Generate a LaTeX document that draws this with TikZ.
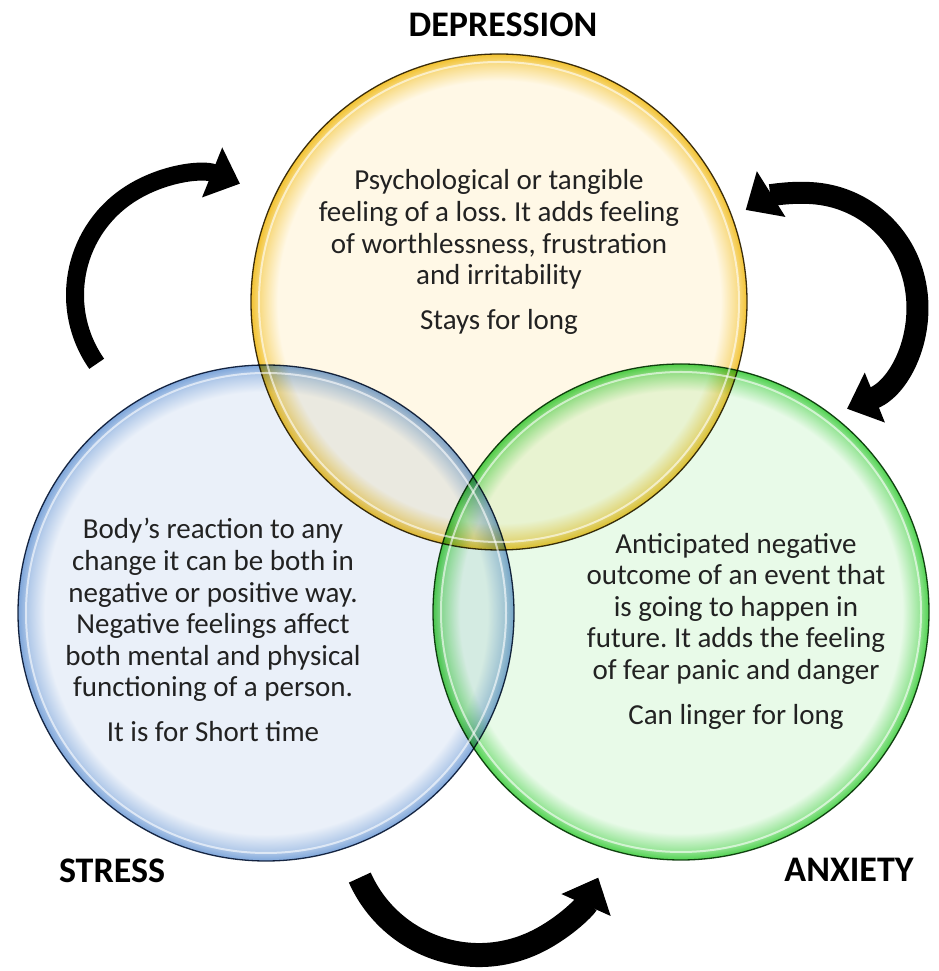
\documentclass[tikz,border=0pt]{standalone}
\usepackage{fontspec}
\setmainfont{Carlito}
\usetikzlibrary{arrows.meta}
\frenchspacing

\definecolor{depfill}{HTML}{FFF8E6}
\definecolor{depedge}{HTML}{F2C230}
\definecolor{depline}{HTML}{3D3415}
\definecolor{strfill}{HTML}{EAF0F9}
\definecolor{stredge}{HTML}{7EA6DA}
\definecolor{strline}{HTML}{1E2E48}
\definecolor{anxfill}{HTML}{E8FAE8}
\definecolor{anxedge}{HTML}{4FD24F}
\definecolor{anxline}{HTML}{1D4A1D}
\definecolor{bodytext}{HTML}{222222}

\pgfdeclareradialshading{depglass}{\pgfpoint{0bp}{0bp}}{color(0bp)=(depfill); color(22.3bp)=(depfill); color(24bp)=(depedge!50!depfill); color(25bp)=(depedge); color(50bp)=(depedge)}
\pgfdeclareradialshading{strglass}{\pgfpoint{0bp}{0bp}}{color(0bp)=(strfill); color(22.3bp)=(strfill); color(24bp)=(stredge!50!strfill); color(25bp)=(stredge); color(50bp)=(stredge)}
\pgfdeclareradialshading{anxglass}{\pgfpoint{0bp}{0bp}}{color(0bp)=(anxfill); color(22.3bp)=(anxfill); color(24bp)=(anxedge!50!anxfill); color(25bp)=(anxedge); color(50bp)=(anxedge)}

\tikzset{
  bubble/.style={circle, minimum size=496pt, inner sep=0pt, line width=1.3pt, shade},
  shine/.style={circle, minimum size=480pt, inner sep=0pt, draw=white, line width=2pt, draw opacity=0.6},
  blurb/.style={align=center, text=bodytext, font=\fontsize{29}{31.6}\selectfont},
  title/.style={font=\bfseries\fontsize{36}{42}\selectfont},
  fatarrow/.style={line width=20pt, -{Triangle[length=30pt,width=52pt]}},
}

\begin{document}
\begin{tikzpicture}[x=1pt, y=1pt]
  \useasboundingbox (0,0) rectangle (938,971);

  % the three circles
  \begin{scope}[blend group=multiply]
    \node[bubble, shading=strglass, draw=strline] (str) at (266,358) {};
    \node[bubble, shading=anxglass, draw=anxline] (anx) at (681,359) {};
    \node[bubble, shading=depglass, draw=depline] (dep) at (499,669) {};
  \end{scope}
  \node[shine] at (str) {};
  \node[shine] at (anx) {};
  \node[shine] at (dep) {};

  \node[blurb] (deptext) at (499,719) {Psychological or tangible\\feeling of a loss. It adds feeling\\of worthlessness, frustration\\and irritability\\[13pt]Stays for long};
  \node[blurb] (strtext) at (213,341) {Body’s reaction to any\\change it can be both in\\negative or positive way.\\Negative feelings affect\\both mental and physical\\functioning of a person.\\[13pt]It is for Short time};
  \node[blurb] (anxtext) at (736,340) {Anticipated negative\\outcome of an event that\\is going to happen in\\future. It adds the feeling\\of fear panic and danger\\[13pt]Can linger for long};

  \node[title] (deplabel) at (503,946) {DEPRESSION};
  \node[title] (strlabel) at (112,100) {STRESS};
  \node[title] (anxlabel) at (849,101) {ANXIETY};

  % cycle arrows
  \coordinate (lefttail) at (96.7,607.2);
  \coordinate (rightend) at (847,562.2);
  \coordinate (bottomtail) at (359.8,93.4);
  \draw[fatarrow, line width=18pt] (lefttail) arc[start angle=215, end angle=68, radius=120];
  \draw[fatarrow, line width=22pt, {Triangle[length=30pt,width=52pt]}-{Triangle[length=30pt,width=52pt]}] (rightend) arc[start angle=-68, end angle=122, radius=112];
  \draw[fatarrow, line width=24pt] (bottomtail) arc[start angle=204, end angle=336, radius=130.5];
\end{tikzpicture}
\end{document}
